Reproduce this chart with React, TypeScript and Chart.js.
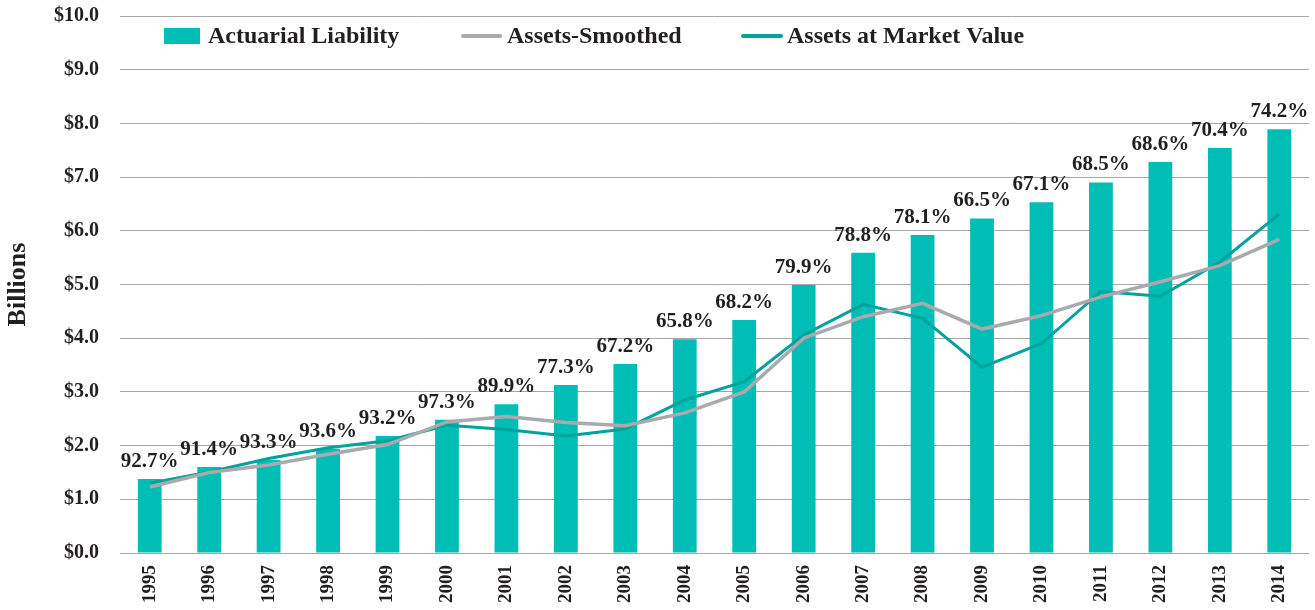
import React, { useEffect, useRef } from 'react';
import { Chart, registerables } from 'chart.js';

Chart.register(...registerables);

const years = ['1995', '1996', '1997', '1998', '1999', '2000', '2001', '2002', '2003', '2004', '2005', '2006', '2007', '2008', '2009', '2010', '2011', '2012', '2013', '2014'];
const actuarialLiability = [1.38, 1.60, 1.73, 1.94, 2.18, 2.48, 2.77, 3.13, 3.52, 3.98, 4.34, 4.99, 5.59, 5.92, 6.23, 6.53, 6.90, 7.28, 7.54, 7.89];
const assetsSmoothed = [1.23, 1.50, 1.64, 1.84, 2.02, 2.44, 2.54, 2.43, 2.37, 2.61, 3.00, 4.00, 4.40, 4.65, 4.17, 4.42, 4.77, 5.05, 5.35, 5.84];
const assetsMarket = [1.30, 1.51, 1.76, 1.96, 2.09, 2.38, 2.30, 2.18, 2.31, 2.85, 3.19, 4.06, 4.63, 4.37, 3.46, 3.90, 4.87, 4.78, 5.42, 6.31];
const fundedRatios = ['92.7%', '91.4%', '93.3%', '93.6%', '93.2%', '97.3%', '89.9%', '77.3%', '67.2%', '65.8%', '68.2%', '79.9%', '78.8%', '78.1%', '66.5%', '67.1%', '68.5%', '68.6%', '70.4%', '74.2%'];
const yTicks = [0, 1, 2, 3, 4, 5, 6, 7, 8, 9, 10];

const BAR_COLOR = '#00BEB5';
const MARKET_COLOR = '#00A39B';
const SMOOTH_COLOR = '#A9AAAD';
const TEXT_COLOR = '#231F20';
const GRID_COLOR = '#A6A6A6';
const FONT = "'Liberation Serif', 'Times New Roman', serif";

const labelsPlugin = {
  id: 'fundedLabels',
  afterDatasetsDraw(chart: any) {
    const ctx = chart.ctx;
    const idx = chart.data.datasets.findIndex((d: any) => d.type === 'bar');
    const meta = chart.getDatasetMeta(idx);
    ctx.save();
    ctx.font = `bold 21px ${FONT}`;
    ctx.fillStyle = TEXT_COLOR;
    ctx.textAlign = 'center';
    ctx.textBaseline = 'alphabetic';
    meta.data.forEach((el: any, i: number) => {
      ctx.fillText(fundedRatios[i], el.x, el.y - 12);
    });
    ctx.restore();
  },
};

const legendPlugin = {
  id: 'customLegend',
  afterDraw(chart: any) {
    const ctx = chart.ctx;
    const yMid = 36;
    ctx.save();
    ctx.font = `bold 24px ${FONT}`;
    ctx.textBaseline = 'middle';
    ctx.textAlign = 'left';
    // Actuarial Liability
    ctx.fillStyle = BAR_COLOR;
    ctx.fillRect(164, 28, 36, 16);
    ctx.fillStyle = TEXT_COLOR;
    ctx.fillText(chart.data.datasets[2].label, 208, yMid + 1);
    // Assets-Smoothed
    ctx.strokeStyle = SMOOTH_COLOR;
    ctx.lineWidth = 4;
    ctx.lineCap = 'round';
    ctx.beginPath();
    ctx.moveTo(463, yMid);
    ctx.lineTo(500, yMid);
    ctx.stroke();
    ctx.fillText(chart.data.datasets[0].label, 507, yMid + 1);
    // Assets at Market Value
    ctx.strokeStyle = MARKET_COLOR;
    ctx.beginPath();
    ctx.moveTo(743, yMid);
    ctx.lineTo(781, yMid);
    ctx.stroke();
    ctx.fillText(chart.data.datasets[1].label, 787, yMid + 1);
    ctx.restore();
  },
};

export default function App() {
  const canvasRef = useRef<HTMLCanvasElement | null>(null);

  useEffect(() => {
    if (!canvasRef.current) return;
    const chart = new Chart(canvasRef.current, {
      type: 'bar',
      data: {
        labels: years,
        datasets: [
          {
            type: 'line',
            label: 'Assets-Smoothed',
            data: assetsSmoothed,
            borderColor: SMOOTH_COLOR,
            backgroundColor: SMOOTH_COLOR,
            borderWidth: 3.5,
            pointRadius: 0,
            tension: 0,
            order: 0,
          },
          {
            type: 'line',
            label: 'Assets at Market Value',
            data: assetsMarket,
            borderColor: MARKET_COLOR,
            backgroundColor: MARKET_COLOR,
            borderWidth: 3,
            pointRadius: 0,
            tension: 0,
            order: 1,
          },
          {
            type: 'bar',
            label: 'Actuarial Liability',
            data: actuarialLiability,
            backgroundColor: BAR_COLOR,
            borderWidth: 0,
            barPercentage: 0.8,
            categoryPercentage: 0.5,
            order: 2,
          },
        ],
      },
      options: {
        animation: false,
        responsive: true,
        maintainAspectRatio: false,
        layout: { padding: { left: 0, right: 6, top: 16, bottom: 0 } },
        plugins: {
          legend: { display: false },
          tooltip: { enabled: false },
        },
        scales: {
          x: {
            grid: { display: false, drawTicks: false },
            border: { display: false },
            ticks: {
              color: TEXT_COLOR,
              font: { family: FONT, size: 19, weight: 'bold' },
              minRotation: 90,
              maxRotation: 90,
              padding: 12,
              autoSkip: false,
            },
            afterFit(scale: any) {
              scale.height = 57;
            },
          },
          y: {
            min: 0,
            max: 10,
            afterBuildTicks(scale: any) {
              scale.ticks = yTicks.map((v) => ({ value: v }));
            },
            grid: { color: GRID_COLOR, lineWidth: 1, drawTicks: false },
            border: { display: false },
            ticks: {
              color: TEXT_COLOR,
              font: { family: FONT, size: 20, weight: 'bold' },
              padding: 21,
              callback: (v: any) => '$' + Number(v).toFixed(1),
            },
            title: {
              display: true,
              text: 'Billions',
              color: TEXT_COLOR,
              font: { family: FONT, size: 26, weight: 'bold' },
              padding: { top: 3, bottom: 0 },
            },
            afterFit(scale: any) {
              scale.width = 120;
              scale.paddingTop = 12;
              scale.paddingBottom = 12;
            },
          },
        },
      },
      plugins: [labelsPlugin, legendPlugin],
    });
    return () => chart.destroy();
  }, []);

  return (
    <div style={{ position: 'fixed', left: 0, top: 0, width: 1315, height: 610, background: '#fff' }}>
      <canvas ref={canvasRef} />
    </div>
  );
}
